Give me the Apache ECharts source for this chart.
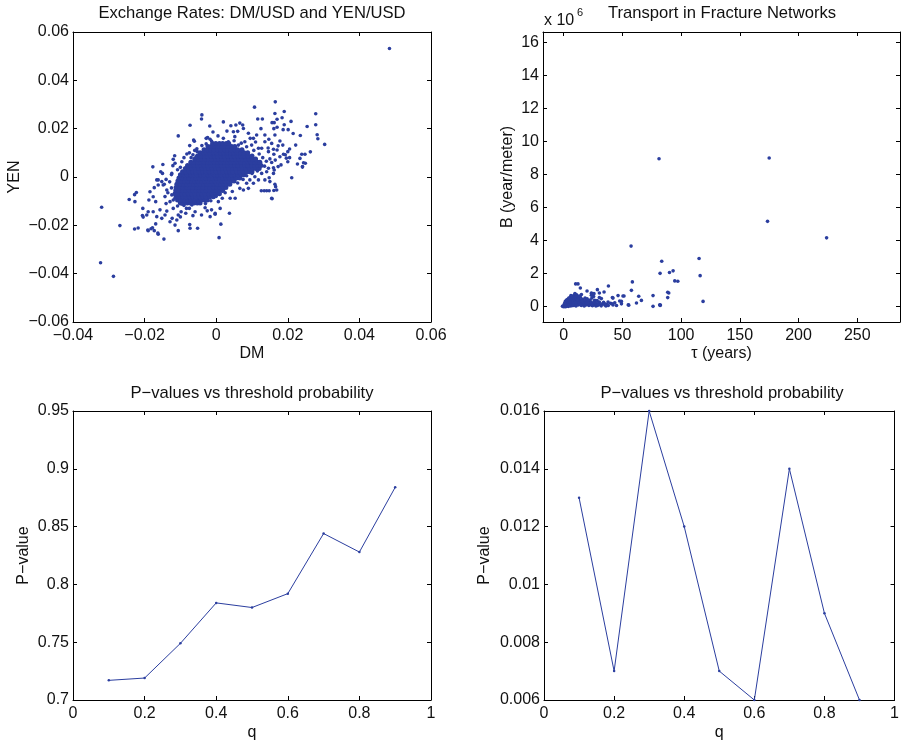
<!DOCTYPE html>
<html>
<head>
<meta charset="utf-8">
<script src="https://cdn.jsdelivr.net/npm/echarts@6/dist/echarts.min.js"></script>
<style>html,body{margin:0;padding:0;background:#fff}#c{width:902px;height:742px}</style>
</head>
<body>
<div id="c"></div>
<script>
// ---------- DATA ----------
// Exchange rates: dense core, rows of [YEN, [DM values...]]
const exchangeCoreRows = [
  [-0.0108, [-0.0100,-0.0091,-0.0081,-0.0072,-0.0062,-0.0053,-0.0045]],
  [-0.0095, [-0.0108,-0.0099,-0.0089,-0.0080,-0.0070,-0.0061,-0.0051,-0.0042,-0.0033,-0.0025]],
  [-0.0082, [-0.0112,-0.0103,-0.0094,-0.0084,-0.0075,-0.0066,-0.0056,-0.0047,-0.0038,-0.0028,-0.0018,-0.0008]],
  [-0.0069, [-0.0115,-0.0106,-0.0096,-0.0087,-0.0078,-0.0068,-0.0059,-0.0049,-0.0040,-0.0031,-0.0021,-0.0011,-0.0001,0.0009]],
  [-0.0056, [-0.0113,-0.0104,-0.0094,-0.0085,-0.0075,-0.0066,-0.0057,-0.0047,-0.0038,-0.0028,-0.0019,-0.0009,0.0000,0.0009,0.0018]],
  [-0.0043, [-0.0112,-0.0102,-0.0093,-0.0083,-0.0074,-0.0065,-0.0055,-0.0046,-0.0036,-0.0027,-0.0017,-0.0008,0.0002,0.0011,0.0020,0.0027]],
  [-0.0030, [-0.0110,-0.0101,-0.0091,-0.0082,-0.0072,-0.0063,-0.0054,-0.0044,-0.0035,-0.0025,-0.0016,-0.0006,0.0003,0.0013,0.0022,0.0030,0.0038]],
  [-0.0017, [-0.0107,-0.0098,-0.0088,-0.0079,-0.0069,-0.0060,-0.0051,-0.0041,-0.0032,-0.0022,-0.0013,-0.0003,0.0006,0.0016,0.0025,0.0034,0.0043,0.0050]],
  [-0.0004, [-0.0104,-0.0095,-0.0085,-0.0076,-0.0066,-0.0057,-0.0047,-0.0038,-0.0029,-0.0019,-0.0010,0.0000,0.0009,0.0019,0.0028,0.0037,0.0047,0.0056,0.0066]],
  [0.0009, [-0.0100,-0.0090,-0.0081,-0.0071,-0.0062,-0.0053,-0.0043,-0.0034,-0.0024,-0.0015,-0.0005,0.0004,0.0013,0.0023,0.0032,0.0042,0.0051,0.0061,0.0070,0.0078]],
  [0.0022, [-0.0094,-0.0085,-0.0075,-0.0066,-0.0056,-0.0047,-0.0038,-0.0028,-0.0019,-0.0009,0.0000,0.0010,0.0019,0.0029,0.0038,0.0047,0.0057,0.0066,0.0076,0.0085,0.0093,0.0100]],
  [0.0035, [-0.0086,-0.0077,-0.0067,-0.0058,-0.0048,-0.0039,-0.0030,-0.0020,-0.0011,-0.0001,0.0008,0.0018,0.0027,0.0036,0.0046,0.0055,0.0065,0.0074,0.0083,0.0093,0.0102,0.0111,0.0120]],
  [0.0048, [-0.0080,-0.0071,-0.0061,-0.0052,-0.0042,-0.0033,-0.0024,-0.0014,-0.0005,0.0005,0.0014,0.0024,0.0033,0.0042,0.0052,0.0061,0.0071,0.0080,0.0089,0.0099,0.0108,0.0117,0.0125]],
  [0.0061, [-0.0071,-0.0062,-0.0052,-0.0043,-0.0034,-0.0024,-0.0015,-0.0005,0.0004,0.0014,0.0023,0.0032,0.0042,0.0051,0.0061,0.0070,0.0080,0.0089,0.0098,0.0108,0.0116,0.0122]],
  [0.0074, [-0.0059,-0.0050,-0.0040,-0.0031,-0.0021,-0.0012,-0.0002,0.0007,0.0016,0.0026,0.0035,0.0045,0.0054,0.0063,0.0073,0.0082,0.0092,0.0101,0.0110]],
  [0.0087, [-0.0052,-0.0043,-0.0033,-0.0024,-0.0014,-0.0005,0.0004,0.0014,0.0023,0.0033,0.0042,0.0051,0.0061,0.0070,0.0080,0.0089,0.0100]],
  [0.0100, [-0.0045,-0.0036,-0.0026,-0.0017,-0.0007,0.0002,0.0012,0.0021,0.0031,0.0040,0.0049,0.0059,0.0068,0.0078,0.0088]],
  [0.0113, [-0.0034,-0.0025,-0.0015,-0.0006,0.0004,0.0013,0.0023,0.0032,0.0041,0.0051,0.0060,0.0072]],
  [0.0126, [-0.0023,-0.0014,-0.0004,0.0005,0.0015,0.0024,0.0033,0.0043,0.0052]],
  [0.0139, [-0.0010,-0.0001,0.0009,0.0018,0.0028,0.0035]]
];
// Exchange rates: scattered points [DM, YEN]
const exchangeSparse = [
  [0.0484,0.0532],[-0.0323,-0.0355],[-0.0287,-0.0411],[-0.0320,-0.0125],[-0.0269,-0.0201],[-0.0228,-0.0215],
  [-0.0218,-0.0211],[-0.0243,-0.0093],[-0.0228,-0.0073],[-0.0223,-0.0064],[-0.0227,-0.0102],[-0.0205,-0.0130],
  [-0.0206,-0.0159],[-0.0204,-0.0166],[-0.0191,-0.0219],[-0.0182,-0.0214],[-0.0177,0.0042],[-0.0169,-0.0194],
  [-0.0163,-0.0232],[-0.0146,-0.0257],[-0.0149,0.0052],[-0.0106,0.0170],[-0.0073,0.0214],[-0.0040,0.0257],
  [-0.0041,0.0240],[-0.0106,-0.0222],[-0.0074,-0.0197],[-0.0073,-0.0212],[-0.0052,-0.0212],[0.0008,-0.0251],
  [0.0013,-0.0195],[0.0020,0.0228],[0.0107,0.0289],[0.0165,0.0311],[0.0116,0.0240],[0.0129,0.0240],
  [0.0190,0.0271],[0.0278,0.0262],[0.0278,0.0216],[0.0254,0.0209],[0.0282,0.0175],[0.0284,0.0158],
  [0.0303,0.0135],[0.0263,0.0104],[0.0235,0.0172],[0.0215,0.0180],[0.0211,-0.0003],[0.0156,-0.0090],
  [0.0161,-0.0056],[0.0126,-0.0057],[0.0141,-0.0057],[0.0193,0.0092],[0.0196,0.0078],
  [-0.0018,0.0211],[-0.0009,0.0186],[-0.0063,0.0153],[-0.0061,0.0148],[-0.0028,0.0160],[-0.0024,0.0163],
  [-0.0017,0.0156],[-0.0013,0.0149],[-0.0028,0.0137],[-0.0074,0.0130],[-0.0054,0.0117],[-0.0053,0.0105],
  [-0.0116,0.0088],[-0.0120,0.0073],[-0.0070,0.0080],[-0.0061,0.0073],[-0.0056,0.0084],[-0.0096,0.0063],
  [-0.0115,0.0057],[-0.0121,0.0047],
  [0.0164,0.0263],[0.0156,0.0225],[0.0162,0.0225],[0.0170,0.0239],[0.0184,0.0245],[0.0209,0.0230],
  [0.0190,0.0216],[0.0055,0.0215],[0.0066,0.0223],[0.0074,0.0215],[0.0076,0.0201],[0.0041,0.0212],
  [0.0125,0.0200],[0.0161,0.0200],[0.0170,0.0206],[0.0187,0.0196],[0.0201,0.0196],[0.0030,0.0190],
  [0.0048,0.0187],[0.0060,0.0189],[0.0222,0.0132],[0.0248,0.0094],[0.0239,0.0094],[0.0205,0.0116],
  [0.0200,0.0105],[0.0234,0.0077],[0.0227,0.0054],[0.0244,0.0059],[0.0249,0.0057],[0.0241,0.0041],
  [0.0205,0.0080],[0.0200,0.0063],[0.0188,0.0094],
  [0.0164,0.0174],[0.0178,0.0149],[0.0186,0.0132],[0.0173,0.0129],[0.0170,0.0112],[0.0155,0.0139],
  [0.0147,0.0156],[0.0136,0.0174],[0.0127,0.0119],[0.0146,0.0105],[0.0161,0.0094],[0.0178,0.0084],
  [0.0181,0.0050],[0.0090,0.0181],[0.0104,0.0160],[0.0113,0.0174],[0.0080,0.0146],[0.0099,0.0132],
  [0.0118,0.0119],[0.0136,0.0146],[0.0052,0.0167],[0.0034,0.0146],[0.0062,0.0132],
  [-0.0194,-0.0157],[-0.0190,-0.0144],[-0.0178,-0.0210],[-0.0190,-0.0222],[-0.0173,-0.0222],[-0.0162,-0.0237],
  [-0.0188,-0.0095],[-0.0176,-0.0082],[-0.0169,-0.0102],[-0.0185,-0.0061],[-0.0173,-0.0044],[-0.0162,-0.0033],
  [-0.0166,-0.0012],[-0.0152,-0.0019],[-0.0176,-0.0144],[-0.0166,-0.0164],[-0.0152,-0.0171],[-0.0143,-0.0157],
  [-0.0157,-0.0136],[-0.0138,-0.0141],[-0.0129,-0.0185],[-0.0115,-0.0199],[-0.0123,-0.0171],[-0.0110,-0.0178],
  [-0.0106,-0.0157],[-0.0098,-0.0144],[-0.0120,-0.0130],[-0.0155,0.0022],[-0.0150,0.0015],[-0.0124,0.0015],
  [-0.0162,-0.0012],[-0.0148,-0.0033],[-0.0138,-0.0054],[-0.0124,-0.0074],[-0.0143,-0.0081],[-0.0115,-0.0088],
  [-0.0129,-0.0102],[-0.0095,-0.0113],[-0.0083,-0.0130],[-0.0059,-0.0144],[-0.0041,-0.0157],[-0.0017,-0.0164],
  [-0.0003,-0.0150],[-0.0013,-0.0136],[-0.0031,-0.0127],[-0.0068,-0.0116],[-0.0050,-0.0102],
  [0.0241,0.0043],[0.0166,-0.0040],[0.0164,-0.0030],[0.0169,-0.0054],[0.0134,-0.0057],[0.0148,-0.0057],
  [0.0155,-0.0088],[0.0150,-0.0019],[0.0148,-0.0003],[0.0160,0.0015],[0.0162,0.0029],[0.0173,0.0043],
  [0.0160,0.0038],[0.0037,-0.0150],[-0.0003,-0.0154],[0.0011,-0.0130],[0.0006,-0.0102],[0.0017,-0.0088],
  [0.0039,-0.0088],[0.0053,-0.0088],[0.0066,-0.0047],[0.0076,-0.0054],[0.0090,-0.0047],[0.0104,-0.0026],
  [0.0118,-0.0012],[0.0136,-0.0012],[0.0085,-0.0026],[0.0094,-0.0012],[0.0108,0.0001],[0.0127,0.0015],
  [0.0141,0.0022],[0.0146,0.0036],
  [-0.0090,0.0080],[-0.0082,0.0095],[-0.0100,0.0040],[-0.0108,0.0030],[-0.0125,0.0010],[-0.0130,-0.0020],
  [-0.0125,-0.0045],[-0.0135,-0.0065],[-0.0120,-0.0095],[-0.0108,-0.0120],[-0.0090,-0.0118],[-0.0075,-0.0130],
  [-0.0030,-0.0110],[-0.0015,-0.0098],[0.0000,-0.0080],[0.0025,-0.0065],[0.0045,-0.0060],[0.0060,-0.0025],
  [0.0075,-0.0010],[0.0085,0.0005],[0.0100,0.0015],[0.0115,0.0025],[0.0135,0.0045],[0.0140,0.0065],
  [0.0130,0.0080],[0.0120,0.0095],[0.0105,0.0110],[0.0085,0.0125],[0.0070,0.0140],[0.0050,0.0150],
  [0.0020,0.0160],[0.0005,0.0170],[-0.0040,0.0130],[-0.0060,0.0110],[-0.0075,0.0100],[-0.0065,0.0092],
  [0.0155,0.0060],[0.0150,0.0075],[0.0165,0.0070],[0.0145,0.0120],[0.0160,0.0115],[0.0110,0.0145],
  [0.0095,0.0160],[-0.0140,-0.0010],[-0.0145,-0.0030],[-0.0140,-0.0110],[-0.0085,-0.0150],[-0.0100,-0.0165],
  [-0.0065,-0.0160],[-0.0025,-0.0140]
];
// Fracture transport: [tau (years), B (x 1e6 year/meter)]
const fractureCluster = [
  [-1.0,0.0],[-0.5,0.02],[0,-0.03],[0.3,0.05],[0.6,0.0],[1.0,0.08],[1.2,0.02],[1.5,-0.02],[1.8,0.12],[2.0,0.05],
  [2.2,0.2],[2.5,0.0],[2.7,0.1],[3.0,0.25],[3.2,0.05],[3.5,0.15],[3.8,0.32],[4.0,0.0],[4.2,0.2],[4.5,0.08],
  [4.8,0.38],[5.0,0.12],[5.2,0.28],[5.5,0.02],[5.8,0.45],[6.0,0.2],[6.3,0.1],[6.5,0.35],[6.8,0.52],[7.0,0.04],
  [7.2,0.25],[7.5,0.42],[7.8,0.15],[8.0,0.6],[8.2,0.32],[8.5,0.05],[8.8,0.48],[9.0,0.22],[9.3,0.68],[9.5,0.38],
  [9.8,0.1],[10.0,0.55],[10.3,0.3],[10.5,0.02],[10.8,0.45],[11.0,0.7],[11.3,0.18],[11.6,0.6],[12.0,0.35],[12.3,0.08],
  [12.6,0.5],[13.0,0.25],[13.4,0.4],[13.8,0.12],[14.2,0.55],[14.6,0.3],[15.0,0.05],[15.5,0.2],[16.0,0.42],[16.5,0.1],
  [17.0,0.28],[17.5,0.02],[18.0,0.15],[18.5,0.35],[19.0,0.08],[19.5,0.22],[20.0,0.45],[20.5,0.12],[21.0,0.3],[21.5,0.05],
  [22.0,0.18],[22.5,0.38],[23.0,0.1],[23.5,0.25],[24.0,0.5],[24.5,0.04],[25.0,0.15],[25.5,0.6],[26.0,0.3],[26.5,0.08],
  [27.0,0.2],[27.5,0.02],[28.0,0.12],[28.5,0.35],[29.0,0.06],[30.0,0.2],[31.0,0.1],[32.0,0.03],[33.0,0.15],[34.0,0.25],
  [35.0,0.08],[36.0,0.02],[37.0,0.12],[38.0,0.05],[40.0,0.18],[42.0,0.08],[3.4,0.42],[5.6,0.55],[7.4,0.62],[9.6,0.78],
  [1.4,0.3],[2.4,0.38],[6.2,0.66],[11.8,0.4],[13.2,0.62],[15.8,0.3],[18.2,0.5],[20.8,0.2],[0.8,0.18],[4.4,0.5]
];
const fractureSparse = [
  [81.2,8.95],[175.0,8.99],[173.6,5.15],[223.9,4.15],[57.4,3.65],[83.5,2.73],[115.3,2.90],[116.2,1.86],
  [82.1,2.0],[90.1,2.05],[93.2,2.15],[94.6,1.54],[97.2,1.52],[58.5,1.48],[57.7,0.97],[88.6,0.85],[89.5,0.81],
  [88.6,0.53],[118.7,0.30],[76.1,0.65],[76.1,0.0],[81.8,0.1],[82.1,0.05],[82.4,0.08],[66.2,0.36],[63.9,0.61],
  [62.0,0.20],[55.4,0.07],[55.0,0.1],[51.4,0.63],[46.3,0.65],[41.5,0.53],[38.1,1.23],[28.7,1.01],[34.4,0.87],
  [30.4,0.53],[30.4,0.81],[30.4,0.26],[19.9,0.93],[10.2,1.36],[12.2,1.36],[14.2,1.11],[15.1,0.71],[23.6,0.8],
  [24.0,0.78],[49.2,0.3],[49.2,0.15],[45.0,0.05],[42.0,0.50],[50.5,0.63],[47.7,0.32],[43.5,0.22],[41.2,0.16],
  [32.1,0.47],[23.6,0.67],[26.4,0.36],[20.7,0.36],[29.2,0.16],[34.9,0.16],[37.8,0.26],[25.8,0.77]
];
// P-values vs threshold probability
const qValues = [0.1,0.2,0.3,0.4,0.5,0.6,0.7,0.8,0.9];
const pValuesLeft = [0.717,0.719,0.749,0.784,0.780,0.792,0.844,0.828,0.884];
const pValuesRight = [0.013,0.007,0.016,0.012,0.007,0.006,0.014,0.009,0.006];
// Tick values for the fracture plot
const tauTicks = [0,50,100,150,200,250];
const bTicks = [0,2,4,6,8,10,12,14,16];

// ---------- CHART ----------
const FONT = "'Liberation Sans', Arial, Helvetica, sans-serif";
const TXT = '#111';
const BLUE = '#2b3e9f';
const FS = 16;
function fmt(v){ const s = String(parseFloat(Number(v).toFixed(4))); return s.replace('-', '\u2212'); }

const exchangeCore = [];
exchangeCoreRows.forEach(r => r[1].forEach(dm => exchangeCore.push([dm, r[0]])));
const fractureData = fractureCluster.concat(fractureSparse);

const grids = [
  {left:73, top:32, width:358, height:290},
  {left:543, top:32, width:357, height:290},
  {left:73, top:411, width:358, height:289},
  {left:544, top:411, width:356, height:289}
];
const axisLine = {show:true, onZero:false, lineStyle:{color:'#000', width:1}};
const tick = {show:true, inside:true, length:4, lineStyle:{color:'#000', width:1}};
const lbl = {color:TXT, fontSize:FS, fontFamily:FONT, formatter: fmt};
const nameStyle = {color:TXT, fontSize:FS, fontFamily:FONT};

function xPair(gi, range, name, gap){
  const base = Object.assign({type:'value', gridIndex:gi, splitLine:{show:false}, axisLine}, range);
  const bottom = Object.assign({}, base, {
    position:'bottom', axisTick: Object.assign({}, tick, range.tickValues ? {customValues: range.tickValues} : {}),
    axisLabel: Object.assign({}, lbl, {margin:6}, range.tickValues ? {customValues: range.tickValues} : {}),
    name, nameLocation:'middle', nameGap:gap, nameTextStyle:nameStyle, nameMoveOverlap:false
  });
  const top = Object.assign({}, base, {
    position:'top', axisTick: Object.assign({}, tick, range.tickValues ? {customValues: range.tickValues} : {}),
    axisLabel:{show:false}
  });
  delete bottom.tickValues; delete top.tickValues;
  return [bottom, top];
}
function yPair(gi, range, name, gap){
  const base = Object.assign({type:'value', gridIndex:gi, splitLine:{show:false}, axisLine}, range);
  const left = Object.assign({}, base, {
    position:'left', axisTick: Object.assign({}, tick, range.tickValues ? {customValues: range.tickValues} : {}),
    axisLabel: Object.assign({}, lbl, {margin:4}, range.tickValues ? {customValues: range.tickValues} : {}),
    name, nameLocation:'middle', nameGap:gap, nameTextStyle:nameStyle, nameMoveOverlap:false
  });
  const right = Object.assign({}, base, {
    position:'right', axisTick: Object.assign({}, tick, range.tickValues ? {customValues: range.tickValues} : {}),
    axisLabel:{show:false}
  });
  delete left.tickValues; delete right.tickValues;
  return [left, right];
}

const xAxes = [].concat(
  xPair(0, {min:-0.04, max:0.06, interval:0.02}, 'DM', 24),
  xPair(1, {min:-17.6, max:286.4, tickValues:tauTicks}, '\u03c4 (years)', 24),
  xPair(2, {min:0, max:1, interval:0.2}, 'q', 25),
  xPair(3, {min:0, max:1, interval:0.2}, 'q', 25)
);
const yAxes = [].concat(
  yPair(0, {min:-0.06, max:0.06, interval:0.02}, 'YEN', 50),
  yPair(1, {min:-0.95, max:16.63, tickValues:bTicks}, 'B (year/meter)', 27),
  yPair(2, {min:0.7, max:0.95, interval:0.05}, 'P\u2212value', 41),
  yPair(3, {min:0.006, max:0.016, interval:0.002}, 'P\u2212value', 51)
);

function titleText(text, x, y){
  return {type:'text', x, y, style:{text, fill:TXT, fontSize:16.6, fontFamily:FONT,
    align:'center', verticalAlign:'middle', textAlign:'center', textVerticalAlign:'middle'}};
}

const dot = {color:BLUE, opacity:1};
const option = {
  animation:false,
  backgroundColor:'#fff',
  grid: grids,
  xAxis: xAxes,
  yAxis: yAxes,
  graphic: [
    titleText('Exchange Rates: DM/USD and YEN/USD', 252, 13),
    titleText('Transport in Fracture Networks', 722, 13),
    titleText('P\u2212values vs threshold probability', 252, 393),
    titleText('P\u2212values vs threshold probability', 722, 393),
    {type:'text', x:544, y:21, style:{text:'x 10', fill:TXT, fontSize:FS, fontFamily:FONT,
      align:'left', verticalAlign:'middle', textAlign:'left', textVerticalAlign:'middle'}},
    {type:'text', x:577, y:13, style:{text:'6', fill:TXT, fontSize:11, fontFamily:FONT,
      align:'left', verticalAlign:'middle', textAlign:'left', textVerticalAlign:'middle'}}
  ],
  series: [
    {type:'scatter', xAxisIndex:0, yAxisIndex:0, data:exchangeCore, symbol:'circle', symbolSize:5,
      itemStyle:dot, silent:true},
    {type:'scatter', xAxisIndex:0, yAxisIndex:0, data:exchangeSparse, symbol:'circle', symbolSize:3.6,
      itemStyle:dot, silent:true},
    {type:'scatter', xAxisIndex:2, yAxisIndex:2, data:fractureData, symbol:'circle', symbolSize:3.6,
      itemStyle:dot, silent:true},
    {type:'line', xAxisIndex:4, yAxisIndex:4, data:qValues.map((q,i)=>[q,pValuesLeft[i]]),
      symbol:'circle', symbolSize:2.5, showSymbol:true, itemStyle:dot,
      lineStyle:{color:BLUE, width:1}, silent:true},
    {type:'line', xAxisIndex:6, yAxisIndex:6, data:qValues.map((q,i)=>[q,pValuesRight[i]]),
      symbol:'circle', symbolSize:2.5, showSymbol:true, itemStyle:dot,
      lineStyle:{color:BLUE, width:1}, silent:true, clip:false}
  ]
};
const chart = echarts.init(document.getElementById('c'), null, {renderer:'canvas'});
chart.setOption(option);
</script>
</body>
</html>
